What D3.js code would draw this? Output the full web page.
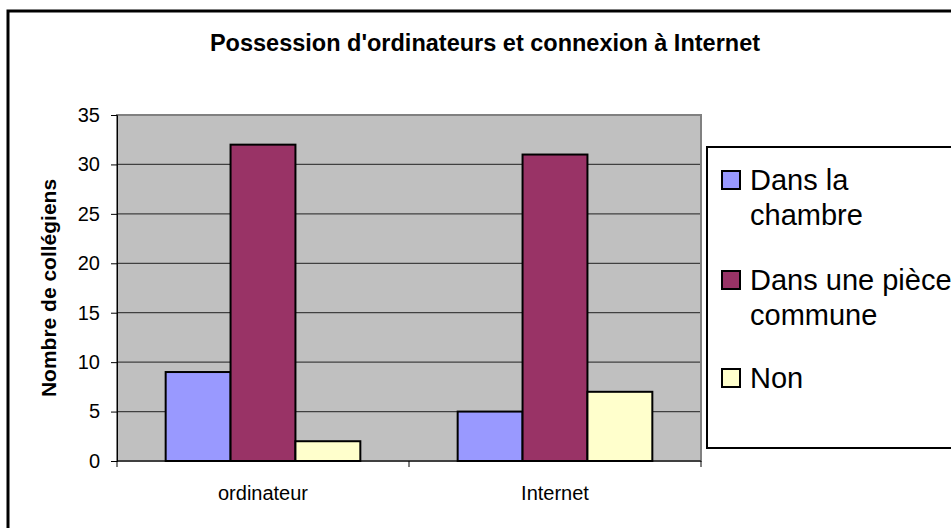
<!DOCTYPE html>
<html>
<head>
<meta charset="utf-8">
<script src="https://cdn.jsdelivr.net/npm/d3@7"></script>
<style>
  body { margin: 0; background: #fff; }
  text { font-family: "Liberation Sans", Arial, sans-serif; }
</style>
</head>
<body>
<div id="chart"></div>
<script>
// Data
const categories = ["ordinateur", "Internet"];
const seriesNames = ["Dans la chambre", "Dans une pièce commune", "Non"];
const seriesValues = [
  [9, 5],   // Dans la chambre
  [32, 31], // Dans une pièce commune
  [2, 7]    // Non
];
const legendLines = [["Dans la", "chambre"], ["Dans une pièce", "commune"], ["Non"]];
const yTicks = [0, 5, 10, 15, 20, 25, 30, 35];
const colors = ["#9999FF", "#993366", "#FFFFCC"];

const W = 951, H = 528;
const plot = { left: 117, top: 115, right: 701, bottom: 461 };

const svg = d3.select("#chart")
  .append("svg")
  .attr("width", W)
  .attr("height", H);

// Outer chart border (runs off the right and bottom edges)
svg.append("rect")
  .attr("x", 8).attr("y", 11)
  .attr("width", 1000).attr("height", 600)
  .attr("fill", "#fff")
  .attr("stroke", "#000")
  .attr("stroke-width", 3);

// Title
svg.append("text")
  .attr("x", 485)
  .attr("y", 51)
  .attr("text-anchor", "middle")
  .style("font-size", "23.5px")
  .style("font-weight", "bold")
  .text("Possession d'ordinateurs et connexion à Internet");

// Scales
const x0 = d3.scaleBand()
  .domain(categories)
  .range([plot.left, plot.right])
  .padding(0);

const x1 = d3.scaleBand()
  .domain(d3.range(seriesNames.length))
  .range([0, x0.bandwidth()])
  .paddingInner(0)
  .paddingOuter(0.75);

const y = d3.scaleLinear()
  .domain([0, 35])
  .range([plot.bottom, plot.top]);

// Plot area background
svg.append("rect")
  .attr("x", plot.left).attr("y", plot.top)
  .attr("width", plot.right - plot.left)
  .attr("height", plot.bottom - plot.top)
  .attr("fill", "#C0C0C0");

// Gridlines
svg.selectAll(".grid")
  .data(yTicks.filter(t => t > 0 && t < 35))
  .enter()
  .append("line")
  .attr("x1", plot.left).attr("x2", plot.right)
  .attr("y1", d => y(d)).attr("y2", d => y(d))
  .attr("stroke", "#404040")
  .attr("stroke-width", 1.2);

// Plot border
svg.append("rect")
  .attr("x", plot.left).attr("y", plot.top)
  .attr("width", plot.right - plot.left)
  .attr("height", plot.bottom - plot.top)
  .attr("fill", "none")
  .attr("stroke", "#808080")
  .attr("stroke-width", 2);

// Bars
const groups = svg.selectAll(".series")
  .data(seriesValues)
  .enter()
  .append("g")
  .attr("fill", (d, i) => colors[i]);

groups.each(function(vals, si) {
  d3.select(this).selectAll("rect")
    .data(vals)
    .enter()
    .append("rect")
    .attr("x", (d, ci) => x0(categories[ci]) + x1(si))
    .attr("y", d => y(d))
    .attr("width", x1.bandwidth())
    .attr("height", d => y(0) - y(d))
    .attr("stroke", "#000")
    .attr("stroke-width", 2);
});

// Y axis
const yAxis = svg.append("g")
  .attr("transform", `translate(${plot.left},0)`)
  .call(d3.axisLeft(y).tickValues(yTicks).tickSize(6).tickPadding(11));
yAxis.select(".domain").attr("stroke", "#000");
yAxis.selectAll("text")
  .style("font-size", "20px")
  .style("font-family", '"Liberation Sans", Arial, sans-serif')
  .attr("fill", "#000");

// X axis with ticks at category boundaries
const xAxisG = svg.append("g")
  .attr("transform", `translate(0,${plot.bottom})`);
xAxisG.append("line")
  .attr("x1", plot.left).attr("x2", plot.right)
  .attr("stroke", "#000");
xAxisG.selectAll(".xtick")
  .data(categories.map(c => x0(c)).concat([plot.right]))
  .enter()
  .append("line")
  .attr("x1", d => d).attr("x2", d => d)
  .attr("y1", 0).attr("y2", 6)
  .attr("stroke", "#000");
xAxisG.selectAll(".xlabel")
  .data(categories)
  .enter()
  .append("text")
  .attr("x", d => x0(d) + x0.bandwidth() / 2)
  .attr("y", 39)
  .attr("text-anchor", "middle")
  .style("font-size", "20px")
  .text(d => d);

// Y axis title
svg.append("text")
  .attr("transform", `translate(56,${(plot.top + plot.bottom) / 2}) rotate(-90)`)
  .attr("text-anchor", "middle")
  .style("font-size", "21px")
  .style("font-weight", "bold")
  .text("Nombre de collégiens");

// Legend
svg.append("rect")
  .attr("x", 707).attr("y", 147)
  .attr("width", 300).attr("height", 301)
  .attr("fill", "#fff")
  .attr("stroke", "#000")
  .attr("stroke-width", 2);

const legendBaseline = [190, 290, 388];
const legend = svg.selectAll(".legend")
  .data(seriesNames)
  .enter()
  .append("g")
  .attr("transform", (d, i) => `translate(722,${legendBaseline[i]})`);

legend.append("rect")
  .attr("y", -19)
  .attr("width", 18).attr("height", 18)
  .attr("fill", (d, i) => colors[i])
  .attr("stroke", "#000")
  .attr("stroke-width", 2);

legend.append("text")
  .style("font-size", "29px")
  .selectAll("tspan")
  .data((d, i) => legendLines[i])
  .enter()
  .append("tspan")
  .attr("x", 28)
  .attr("dy", (d, j) => j === 0 ? 0 : 35)
  .text(d => d);
</script>
</body>
</html>
